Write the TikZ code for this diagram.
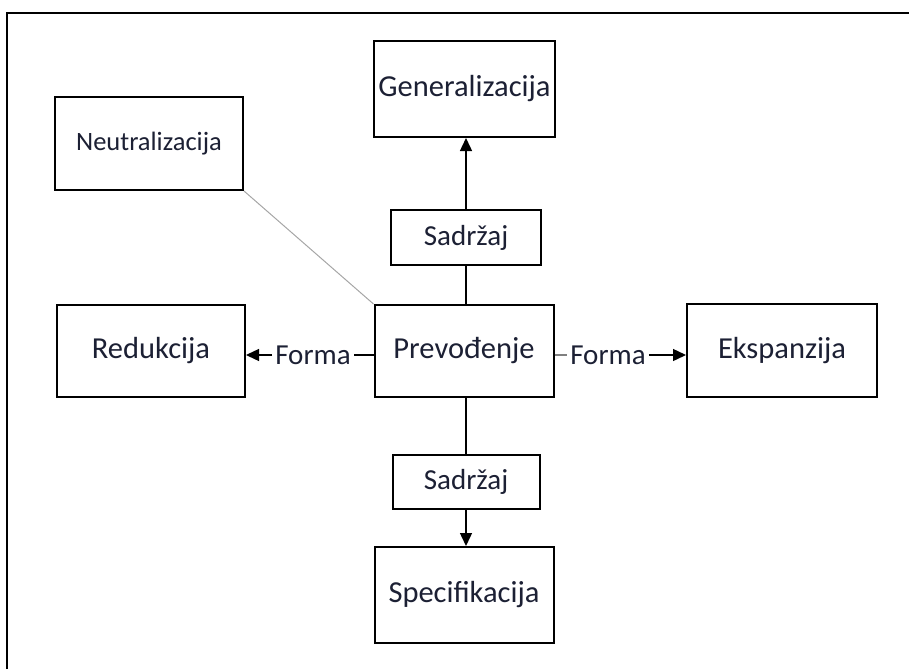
\documentclass[tikz,border=0pt]{standalone}
\usepackage{fontspec}
\setmainfont{Carlito}
\usetikzlibrary{arrows.meta,calc}
\definecolor{ink}{RGB}{28,32,52}
\tikzset{
  box/.style={draw=black, line width=2pt, fill=white, text=ink, inner sep=0pt, align=center, font=\fontsize{30.5}{34}\selectfont},
  smallbox/.style={box, font=\fontsize{29}{33}\selectfont},
  lbl/.style={text=ink, inner sep=3pt, font=\fontsize{29}{33}\selectfont},
  arr/.style={line width=1.4pt, -{Triangle[length=13pt,width=12pt]}},
  ln/.style={line width=1.4pt},
  thin/.style={line width=1pt, draw=gray!70}
}
\begin{document}
\begin{tikzpicture}[x=1pt,y=-1pt]
\useasboundingbox (0,0) rectangle (909,669);
% outer frame
\draw[line width=2.5pt] (7,669) -- (7,13) -- (909,13);
% nodes
\node[box, minimum width=181pt, minimum height=96pt] (gen) at (464.5,89) {Generalizacija};
\node[box, minimum width=188pt, minimum height=93pt, font=\fontsize{26.5}{30}\selectfont] (neu) at (149,143.5) {\raisebox{-4pt}{Neutralizacija}};
\node[smallbox, minimum width=150pt, minimum height=55pt] (sadt) at (466,237.5) {Sadržaj};
\node[box, minimum width=179pt, minimum height=92pt] (prev) at (464,351) {Prevođenje};
\node[box, minimum width=188pt, minimum height=92pt] (red) at (151,351) {Redukcija};
\node[box, minimum width=190pt, minimum height=93pt] (eks) at (782,350.5) {Ekspanzija};
\node[smallbox, minimum width=147pt, minimum height=54pt] (sadb) at (466,482) {Sadržaj};
\node[box, minimum width=179pt, minimum height=96pt] (spec) at (464,595) {Specifikacija};
\node[lbl] (fl) at (313,355) {Forma};
\node[lbl] (fr) at (608,355) {Forma};
% connectors
\draw[ln] (prev.north -| sadt.south) -- (sadt.south);
\draw[arr] (sadt.north) -- (sadt.north |- gen.south);
\draw[ln] (prev.south -| sadb.north) -- (sadb.north);
\draw[arr] (sadb.south) -- (sadb.south |- spec.north);
\draw[thin] (neu.south east) -- (prev.north west);
\draw[ln] (prev.west |- fl.east) -- (fl.east);
\draw[arr] (fl.west) -- (fl.west -| red.east);
\draw[ln, draw=gray] (prev.east |- fr.west) -- (fr.west);
\draw[arr] (fr.east) -- (fr.east -| eks.west);
\end{tikzpicture}
\end{document}
